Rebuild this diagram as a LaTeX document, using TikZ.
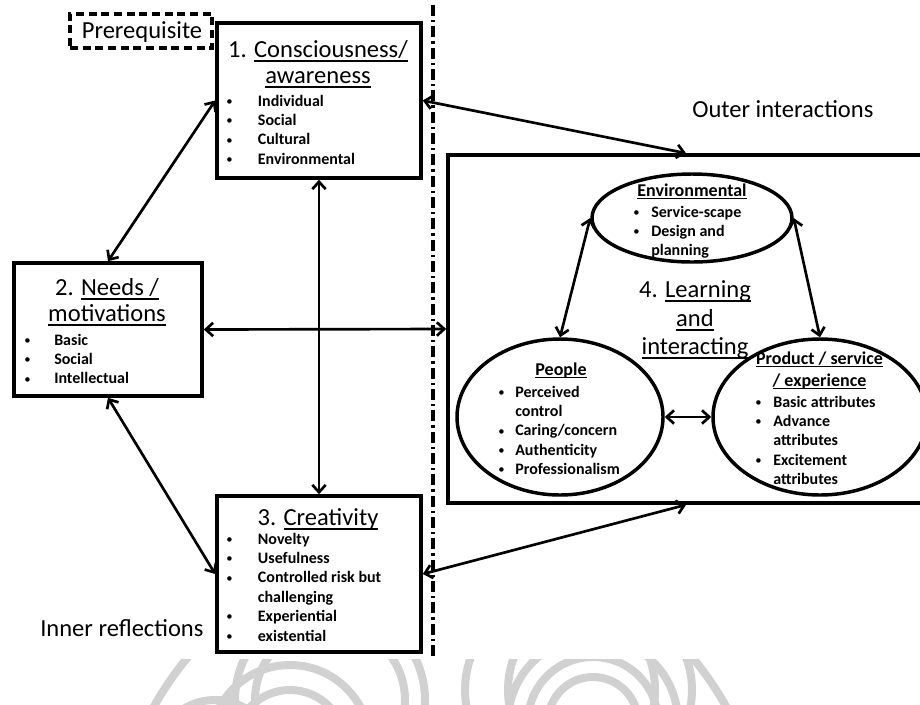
\documentclass[tikz,border=0pt]{standalone}
\usepackage{fontspec}
\setmainfont{Carlito}
\usetikzlibrary{arrows.meta,shapes.geometric}

% underline drawn as a rule a little below the baseline
\newcommand{\uln}[1]{\setbox0=\hbox{#1}\rlap{\rule[-0.19em]{\wd0}{0.08em}}\box0}
\newcommand{\mytitlefont}{\fontsize{18.4pt}{22pt}\selectfont}
\newcommand{\mysubfont}{\fontsize{13.5pt}{16pt}\selectfont\bfseries}
\newcommand{\mybulletfont}{\fontsize{12pt}{14.6pt}\selectfont\bfseries}
% one bullet of a list, padded to the gap given in \bgap
\newcommand{\bdot}{\makebox[\bgap][l]{\raisebox{0.7pt}{\fontsize{9.5pt}{9.5pt}\selectfont\mdseries\textbullet}}}
\newcommand{\bnone}{\makebox[\bgap][l]{}}

\begin{document}
\begin{tikzpicture}[x=0.75pt,y=-0.75pt,
  box/.style={draw,rectangle,line width=2.7pt,inner sep=0pt},
  oval/.style={draw,ellipse,line width=2.6pt,inner sep=0pt},
  link/.style={line width=2pt,
    {Straight Barb[length=5.5pt,width=10pt]}-{Straight Barb[length=5.5pt,width=10pt]}},
  ttl/.style={inner sep=0pt,anchor=base,font=\mytitlefont},
  sub/.style={inner sep=0pt,anchor=base,font=\mysubfont},
  lbl/.style={inner sep=0pt,anchor=base west,font=\mytitlefont},
  lst/.style={inner sep=0pt,anchor=base west,font=\mybulletfont},
  wm/.style={draw=black!18,line width=6pt}]
\useasboundingbox[fill=white] (0,0) rectangle (920,704);

% faint seal at the foot of the page
\begin{scope}
  \clip (0,659) rectangle (920,704);
  \draw[wm] (440,867) circle[radius=328];
  \draw[wm] (593,722) circle[radius=45];
  \draw[wm] (593,722) circle[radius=65];
  \draw[wm] (593,722) circle[radius=85];
  \draw[wm] (290,745) circle[radius=55];
  \draw[wm] (290,745) circle[radius=80];
  \draw[wm] (330,700) circle[radius=95];
  \draw[wm] (330,700) circle[radius=75];
  \draw[wm] (560,690) circle[radius=95];
  \draw[wm] (600,690) circle[radius=92];
  \draw[wm] (215,760) circle[radius=60];
\end{scope}

% dash-dot divider between inner and outer sides
\coordinate (divtop) at (433,5);
\coordinate (divbot) at (433,658);
\draw[line width=2.5pt,dash pattern=on 8.2pt off 3pt on 1.8pt off 3pt] (divtop) -- (divbot);

% boxes and ovals
\node[box,dashed,dash pattern=on 6pt off 3.5pt,minimum width=142*0.75pt,minimum height=34*0.75pt] (pre) at (141,31) {};
\node[box,minimum width=204*0.75pt,minimum height=155*0.75pt] (b1) at (319,100.5) {};
\node[box,minimum width=188*0.75pt,minimum height=133*0.75pt] (b2) at (108,329.5) {};
\node[box,minimum width=204*0.75pt,minimum height=156*0.75pt] (b3) at (319,574) {};
\node[box,minimum width=476*0.75pt,minimum height=348*0.75pt] (b4) at (686,329) {};
\node[oval,minimum width=200*0.75pt,minimum height=88*0.75pt] (env) at (692,218) {};
\node[oval,minimum width=206*0.75pt,minimum height=156*0.75pt] (ppl) at (560,417) {};
\node[oval,minimum width=214*0.75pt,minimum height=156*0.75pt] (prd) at (820,417) {};

% free labels
\node[ttl] (preT) at (142,38) {Prerequisite};
\node[lbl] (outer) at (692,117) {Outer interactions};
\node[lbl] (inner) at (40,636) {Inner reflections};

% 1. Consciousness / awareness
\node[ttl] (b1a) at (318,57) {1. \uln{Consciousness/}};
\node[ttl] (b1b) at (318,83) {\uln{awareness}};
\node[lst] (b1l) at (226,106) {\def\bgap{23.75pt}\begin{tabular}[t]{@{}l@{}l@{}}
  \bdot & Individual\\ \bdot & Social\\ \bdot & Cultural\\ \bdot & Environmental\end{tabular}};

% 2. Needs / motivations
\node[ttl] (b2a) at (107,295) {2. \uln{Needs /}};
\node[ttl] (b2b) at (107,321) {\uln{motivations}};
\node[lst] (b2l) at (24,345) {\def\bgap{22.5pt}\begin{tabular}[t]{@{}l@{}l@{}}
  \bdot & Basic\\ \bdot & Social\\ \bdot & Intellectual\end{tabular}};

% 3. Creativity
\node[ttl] (b3a) at (318,525) {3. \uln{Creativity}};
\node[lst] (b3l) at (226,544) {\def\bgap{23.75pt}\begin{tabular}[t]{@{}l@{}l@{}}
  \bdot & Novelty\\ \bdot & Usefulness\\ \bdot & Controlled risk but\\ \bnone & challenging\\
  \bdot & Experiential\\ \bdot & existential\end{tabular}};

% 4. Learning and interacting
\node[ttl] (b4a) at (695,297) {4. \uln{Learning}};
\node[ttl] (b4b) at (695,326) {\uln{and}};
\node[ttl] (b4c) at (695,354) {\uln{interacting}};

\node[sub] (envT) at (692,196) {\uln{Environmental}};
\node[lst] (envL) at (633,217) {\def\bgap{13.5pt}\begin{tabular}[t]{@{}l@{}l@{}}
  \bdot & Service-scape\\ \bdot & Design and\\ \bnone & planning\end{tabular}};

\node[sub] (pplT) at (561,375) {\uln{People}};
\node[lst] (pplL) at (498,397) {\def\bgap{12.75pt}\begin{tabular}[t]{@{}l@{}l@{}}
  \bdot & Perceived\\ \bnone & control\\ \bdot & Caring/concern\\ \bdot & Authenticity\\
  \bdot & Professionalism\end{tabular}};

\node[sub] (prdT) at (819.5,364) {\uln{Product / service}};
\node[sub] (prdU) at (819.5,386) {\uln{/ experience}};
\node[lst] (prdL) at (755,407) {\def\bgap{13.5pt}\begin{tabular}[t]{@{}l@{}l@{}}
  \bdot & Basic attributes\\ \bdot & Advance\\ \bnone & attributes\\ \bdot & Excitement\\
  \bnone & attributes\end{tabular}};

% connectors
\draw[link] (b1.west) -- (b2.north);
\draw[link] (b2.south) -- (b3.west);
\draw[link] (b1.south) -- (b3.north);
\draw[link] (b2.east) -- (b4.west);
\draw[link] (b1.east) -- (b4.north);
\draw[link] (b3.east) -- (b4.south);
\draw[link] (env.west) -- (ppl.north);
\draw[link] (env.east) -- (prd.north);
\draw[link] (ppl.east) -- (prd.west);
\end{tikzpicture}
\end{document}
